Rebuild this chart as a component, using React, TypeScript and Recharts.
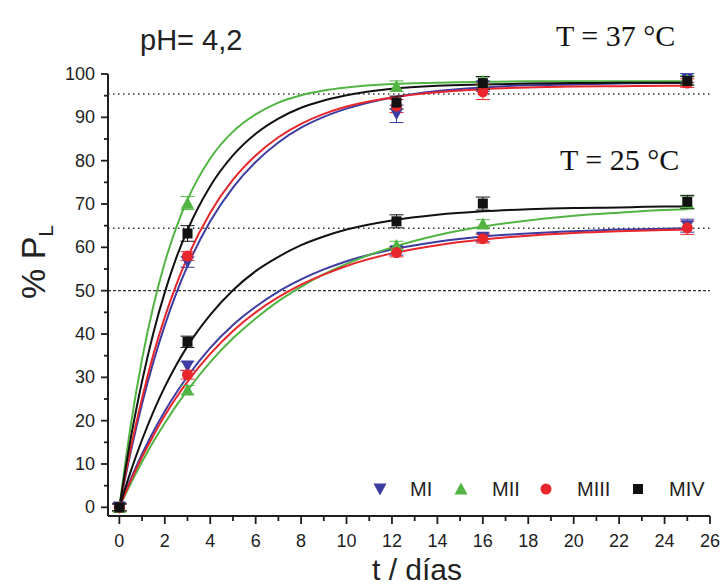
import { ComposedChart, Line, Scatter, XAxis, YAxis, ReferenceLine, ErrorBar } from "recharts";

// sampling days of the experiment
const days = [0, 3, 12.2, 16, 25];

// measured % PL, 37 °C
const mi37 = [0, 56.6, 90.8, 97.2, 99.1];
const mii37 = [0, 70.2, 97.2, 98.3, 98.6];
const miii37 = [0, 58.0, 92.6, 95.9, 97.9];
const miv37 = [0, 63.2, 93.4, 97.9, 98.4];
// measured % PL, 25 °C
const mi25 = [0, 32.6, 59.2, 62.3, 65.0];
const mii25 = [0, 27.1, 60.4, 65.4, 70.3];
const miii25 = [0, 30.6, 58.8, 62.0, 64.5];
const miv25 = [0, 38.2, 66.0, 70.1, 70.5];

// error bars
const mi37Err = [0.8, 1.2, 2.0, 1.2, 1.0];
const mii37Err = [0.8, 1.5, 1.2, 1.0, 1.0];
const miii37Err = [0.8, 1.0, 1.5, 1.8, 1.0];
const miv37Err = [0.8, 1.8, 1.5, 1.5, 1.0];
const mi25Err = [0.8, 1.0, 1.0, 1.0, 1.5];
const mii25Err = [0.8, 1.0, 1.0, 1.0, 1.5];
const miii25Err = [0.8, 1.0, 1.0, 1.0, 1.5];
const miv25Err = [0.8, 1.3, 1.5, 1.5, 1.5];

// fitted curves
const fitT = [0, 0.5, 1, 1.5, 2, 2.5, 3, 4, 5, 6, 7, 8, 9, 10, 12, 14, 16, 18, 20, 22, 24, 25];
const fitMI37 = [0, 12.8, 23.9, 33.6, 42.0, 49.3, 55.7, 66.0, 73.8, 79.7, 84.2, 87.6, 90.1, 92.0, 94.6, 96.1, 96.9, 97.4, 97.6, 97.8, 97.9, 97.9];
const fitMII37 = [0, 18.9, 34.2, 46.5, 56.5, 64.5, 71.0, 80.5, 86.7, 90.7, 93.4, 95.1, 96.2, 96.9, 97.7, 98.0, 98.2, 98.3, 98.3, 98.3, 98.3, 98.3];
const fitMIII37 = [0, 13.6, 25.2, 35.3, 43.9, 51.3, 57.7, 68.0, 75.6, 81.2, 85.4, 88.5, 90.8, 92.5, 94.6, 95.8, 96.5, 96.9, 97.1, 97.2, 97.3, 97.3];
const fitMIV37 = [0, 15.9, 29.1, 40.3, 49.6, 57.5, 64.0, 74.1, 81.2, 86.2, 89.7, 92.2, 93.9, 95.1, 96.6, 97.3, 97.6, 97.8, 97.9, 98.0, 98.0, 98.0];
const fitMI25 = [0, 6.5, 12.3, 17.5, 22.2, 26.4, 30.2, 36.8, 42.1, 46.3, 49.8, 52.6, 54.9, 56.8, 59.5, 61.3, 62.5, 63.2, 63.7, 64.1, 64.3, 64.4];
const fitMII25 = [0, 5.5, 10.5, 15.2, 19.4, 23.4, 27.0, 33.5, 39.0, 43.6, 47.6, 50.9, 53.8, 56.2, 60.0, 62.8, 64.8, 66.2, 67.3, 68.0, 68.6, 68.8];
const fitMIII25 = [0, 6.1, 11.6, 16.6, 21.2, 25.3, 29.0, 35.4, 40.7, 45.0, 48.5, 51.4, 53.7, 55.7, 58.6, 60.5, 61.8, 62.7, 63.3, 63.7, 64.0, 64.1];
const fitMIV25 = [0, 8.3, 15.6, 22.1, 27.8, 32.8, 37.2, 44.4, 50.1, 54.5, 57.8, 60.5, 62.5, 64.1, 66.2, 67.5, 68.3, 68.8, 69.1, 69.2, 69.4, 69.4];

// plateau levels (dotted lines)
const plateaus = [95.4, 64.4, 50];

const xTicks = [0, 1, 2, 3, 4, 5, 6, 7, 8, 9, 10, 11, 12, 13, 14, 15, 16, 17, 18, 19, 20, 21, 22, 23, 24, 25, 26];
const yTicks = [0, 5, 10, 15, 20, 25, 30, 35, 40, 45, 50, 55, 60, 65, 70, 75, 80, 85, 90, 95, 100];

const BLUE = "#3d3ca3";
const GREEN = "#52b443";
const RED = "#e8262b";
const BLACK = "#111111";
const AXIS = "#1e1e1e";
const SANS = "Arial, 'Liberation Sans', sans-serif";
const SERIF = "'Times New Roman', 'Liberation Serif', serif";

const fitRows = fitT.map((t, i) => ({
  t,
  mi37: fitMI37[i],
  mii37: fitMII37[i],
  miii37: fitMIII37[i],
  miv37: fitMIV37[i],
  mi25: fitMI25[i],
  mii25: fitMII25[i],
  miii25: fitMIII25[i],
  miv25: fitMIV25[i],
}));

const points = (vals: number[], errs: number[]) =>
  days.map((t, i) => ({ t, v: vals[i], err: errs[i] }));

type Kind = "down" | "up" | "circle" | "square";

function Marker({ cx, cy, kind, color }: { cx: number; cy: number; kind: Kind; color: string }) {
  if (cx == null || cy == null) return null;
  if (kind === "down")
    return <path d={`M${cx - 6.5},${cy - 5.5} L${cx + 6.5},${cy - 5.5} L${cx},${cy + 6.5} Z`} fill={color} />;
  if (kind === "up")
    return <path d={`M${cx - 6.5},${cy + 5.5} L${cx + 6.5},${cy + 5.5} L${cx},${cy - 6.5} Z`} fill={color} />;
  if (kind === "circle") return <circle cx={cx} cy={cy} r={5.5} fill={color} />;
  return <rect x={cx - 5} y={cy - 5} width={10} height={10} fill={color} />;
}

const series = [
  { name: "MI", kind: "down" as Kind, color: BLUE, fit37: "mi37", fit25: "mi25", d37: points(mi37, mi37Err), d25: points(mi25, mi25Err) },
  { name: "MII", kind: "up" as Kind, color: GREEN, fit37: "mii37", fit25: "mii25", d37: points(mii37, mii37Err), d25: points(mii25, mii25Err) },
  { name: "MIII", kind: "circle" as Kind, color: RED, fit37: "miii37", fit25: "miii25", d37: points(miii37, miii37Err), d25: points(miii25, miii25Err) },
  { name: "MIV", kind: "square" as Kind, color: BLACK, fit37: "miv37", fit25: "miv25", d37: points(miv37, miv37Err), d25: points(miv25, miv25Err) },
];

function XTick(props: any) {
  const { x, y, payload } = props;
  const major = payload.value % 2 === 0;
  return (
    <g>
      <line x1={x} x2={x} y1={y} y2={y + (major ? 8 : 5)} stroke={AXIS} strokeWidth={1.8} />
      {major && (
        <text x={x} y={y + 31} textAnchor="middle" fontFamily={SANS} fontSize={18} fill={AXIS}>
          {payload.value}
        </text>
      )}
    </g>
  );
}

function YTick(props: any) {
  const { x, y, payload } = props;
  const major = payload.value % 10 === 0;
  return (
    <g>
      <line x1={x - (major ? 7 : 4)} x2={x} y1={y} y2={y} stroke={AXIS} strokeWidth={1.8} />
      {major && (
        <text x={x - 13} y={y + 6} textAnchor="end" fontFamily={SANS} fontSize={18} fill={AXIS}>
          {payload.value}
        </text>
      )}
    </g>
  );
}

const legendItems = [
  { s: series[0], mx: 380, tx: 410 },
  { s: series[1], mx: 461, tx: 492 },
  { s: series[2], mx: 546, tx: 577 },
  { s: series[3], mx: 638, tx: 669 },
];

export default function App() {
  return (
    <div style={{ position: "relative", width: 723, height: 588 }}>
      <style>{`body{margin:0;overflow:hidden}`}</style>
      <ComposedChart width={723} height={588} data={fitRows} margin={{ top: 74, right: 13, bottom: 0, left: 0 }}>
        <XAxis
          type="number"
          dataKey="t"
          domain={[-0.5, 26]}
          ticks={xTicks}
          interval={0}
          tickSize={0}
          tickMargin={0}
          tickLine={false}
          tick={<XTick />}
          axisLine={{ stroke: AXIS, strokeWidth: 2 }}
          height={72}
          allowDataOverflow
        />
        <YAxis
          type="number"
          domain={[-2, 100]}
          ticks={yTicks}
          interval={0}
          tickSize={0}
          tickMargin={0}
          tickLine={false}
          tick={<YTick />}
          axisLine={{ stroke: AXIS, strokeWidth: 2 }}
          width={108}
          allowDataOverflow
        />
        {plateaus.map((p, i) => (
          <ReferenceLine
            key={p}
            y={p}
            stroke="#333"
            strokeWidth={1.4}
            strokeDasharray={i === 2 ? "3 2" : "1.5 3.5"}
          />
        ))}
        {series.map((s) => (
          <Line key={s.fit37} dataKey={s.fit37} type="monotone" stroke={s.color} strokeWidth={2} dot={false} isAnimationActive={false} />
        ))}
        {series.map((s) => (
          <Line key={s.fit25} dataKey={s.fit25} type="monotone" stroke={s.color} strokeWidth={2} dot={false} isAnimationActive={false} />
        ))}
        {series.map((s) => (
          <Scatter
            key={s.name + "37"}
            data={s.d37}
            dataKey="v"
            isAnimationActive={false}
            shape={(p: any) => <Marker cx={p.cx} cy={p.cy} kind={s.kind} color={s.color} />}
          >
            <ErrorBar dataKey="err" direction="y" width={7} stroke={s.color} strokeWidth={1} isAnimationActive={false} />
          </Scatter>
        ))}
        {series.map((s) => (
          <Scatter
            key={s.name + "25"}
            data={s.d25}
            dataKey="v"
            isAnimationActive={false}
            shape={(p: any) => <Marker cx={p.cx} cy={p.cy} kind={s.kind} color={s.color} />}
          >
            <ErrorBar dataKey="err" direction="y" width={7} stroke={s.color} strokeWidth={1} isAnimationActive={false} />
          </Scatter>
        ))}
      </ComposedChart>
      <svg width={723} height={588} style={{ position: "absolute", left: 0, top: 0, pointerEvents: "none" }}>
        <text x={140} y={50} fontFamily={SANS} fontSize={29} fill="#222">pH= 4,2</text>
        <text x={556} y={46} fontFamily={SERIF} fontSize={30} fill="#111">T = 37 °C</text>
        <text x={560} y={170} fontFamily={SERIF} fontSize={30} fill="#111">T = 25 °C</text>
        <text transform="translate(45, 262) rotate(-90)" textAnchor="middle" fontFamily={SANS} fontSize={34} fill="#222">
          % P<tspan fontSize={21} dy={8}>L</tspan>
        </text>
        <text x={417} y={580} textAnchor="middle" fontFamily={SANS} fontSize={30} fill="#222">t / días</text>
        {legendItems.map(({ s, mx, tx }) => (
          <g key={s.name}>
            <Marker cx={mx} cy={489} kind={s.kind} color={s.color} />
            <text x={tx} y={496} fontFamily={SANS} fontSize={20} fill="#222">{s.name}</text>
          </g>
        ))}
      </svg>
    </div>
  );
}
